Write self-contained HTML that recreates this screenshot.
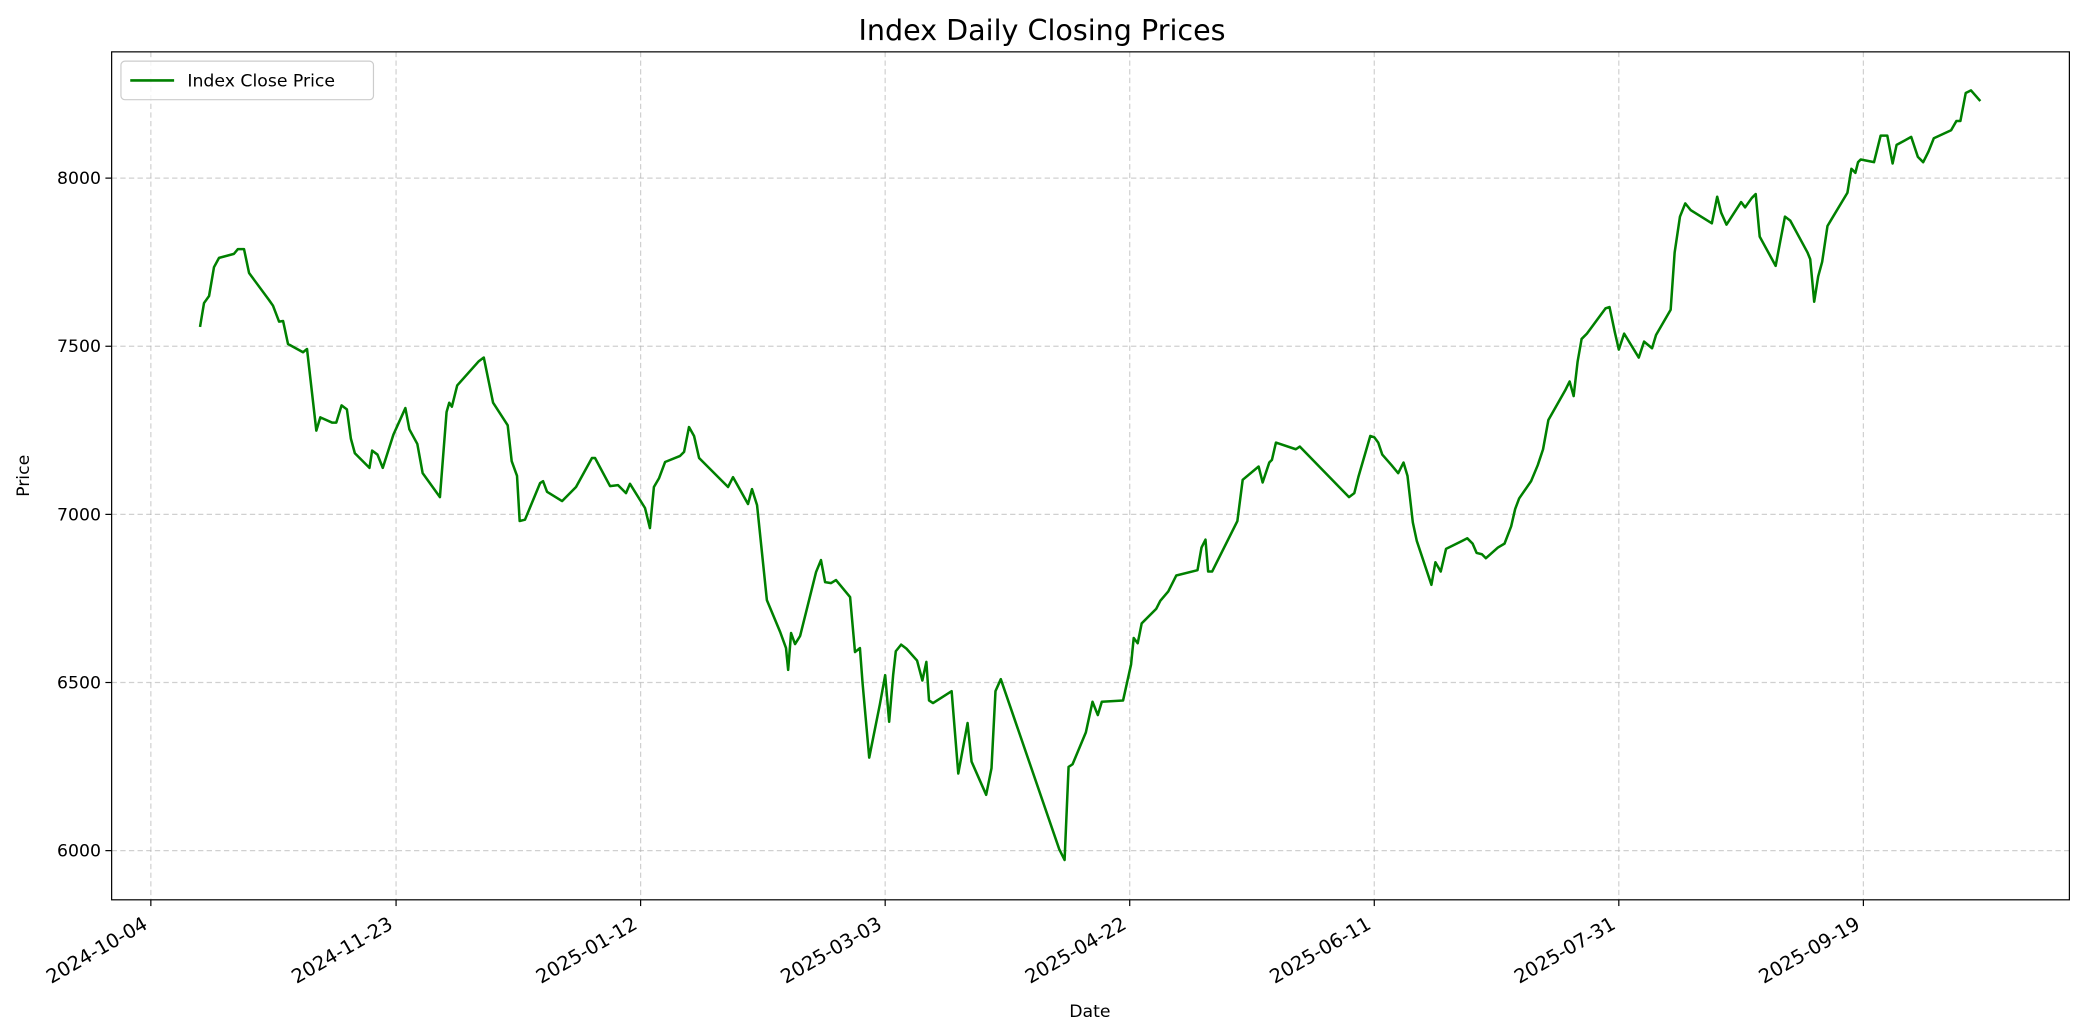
<!DOCTYPE html>
<html><head><meta charset="utf-8"><style>html,body{margin:0;padding:0;background:#fff}svg{display:block}</style></head>
<body>
<svg width="2084" height="1035" viewBox="0 0 1568 778.7" xmlns="http://www.w3.org/2000/svg" font-family="'DejaVu Sans','Liberation Sans',sans-serif">
<rect x="0" y="0" width="1568" height="778.7" fill="#fff"/>
<g stroke="#b0b0b0" stroke-opacity="0.6" stroke-width="0.9" stroke-dasharray="4,2.5" fill="none">
<line x1="113.5" y1="39" x2="113.5" y2="677"/><line x1="298" y1="39" x2="298" y2="677"/><line x1="482" y1="39" x2="482" y2="677"/><line x1="666" y1="39" x2="666" y2="677"/><line x1="850" y1="39" x2="850" y2="677"/><line x1="1034" y1="39" x2="1034" y2="677"/><line x1="1218" y1="39" x2="1218" y2="677"/><line x1="1402" y1="39" x2="1402" y2="677"/>
<line x1="84" y1="134" x2="1557" y2="134"/><line x1="84" y1="260.5" x2="1557" y2="260.5"/><line x1="84" y1="387" x2="1557" y2="387"/><line x1="84" y1="513.5" x2="1557" y2="513.5"/><line x1="84" y1="640" x2="1557" y2="640"/>
</g>
<polyline fill="none" stroke="#008000" stroke-width="1.9" stroke-linejoin="round" points="150.5,246 153.5,228 157.3,222.7 161,201 164.8,194 176,191 179,187.4 183.6,187.4 187.4,205.4 202.4,225.7 205.4,230 210,242 213,241.5 216.7,258.8 228,265 231,262.6 238,324 241,314 250,318 253,318 257,305 261,308 264,330 267,341 278,352 280,339 284,342 288,352 296,327 305,307 308,323 314,334 318,356 331,374 336,310 338,303 340,306 344,290 360,272 364,269 371,303 382,320 385,347 389,358 391,392 395,391 406.4,363.4 408.6,362 411.6,370 422.9,377 433.4,366.4 445.4,344.6 447.7,344.6 459,365.7 465,365 471,371 474,364 485.3,382.2 489,397.3 492,366.4 495.9,359.7 500.4,347.6 511.7,343 514.7,340 518.4,321.3 522.2,328 526,344.6 547.8,366.4 551.5,359 562.8,379.2 565.8,368 569.6,380 577,451.5 587,475.5 591.4,487.6 593,504 595.2,476.3 598.2,484.6 602,478.5 606.5,460.5 614,430.4 617.7,421.4 620.8,438 625.3,438.7 629,436.4 639.6,449.2 643.3,490.6 647,487.6 649,514 654,570 657,555 662,530 666,508 669,543 672,508 674,490 678,485 682,488 690,497 694,512 697,498 699,527 702,529 716,520 721,582 728,544 731,573 742,598 746,578 749,520 753,511 797,639 801,647 804,577 807,575 817,551 822,528 826,538 829,528 845,527 851,500 853,480 856,484 859,469 870,458 873,452 879,445 885,433 901,429 904,412 907,406 909,430 912,430 931,392 935,361 947,351 950,363 955,348 957,346 960,333 975,338 978,336 1015,374 1019,371 1022,359 1031,328 1034,329 1037,333 1040,342 1047,350 1052,356 1056,348 1059,358 1063,393 1066,407 1077,440 1080,423 1084,430 1088,413 1100,407 1104,405 1108,409 1111,416 1115,417 1118,420 1127,412 1132,409 1137,396 1140,383 1143,375 1152,362 1157,350 1161,338 1165,316 1178,293 1181,287 1184,298 1187,272 1190,255 1194,251 1208,232 1211,231 1215,250 1218,263 1222,251 1233,269 1237,257 1243,262 1246,252 1257,233 1260,190 1264,163 1268,153 1272,158 1288,168 1292,148 1295,160 1299,169 1310,152 1313,156 1318,149 1321,146 1324,178 1336,200 1339,184 1343,163 1347,166 1360,190 1362,195 1365,227 1368,208 1371,197 1375,170 1378,165 1390,145 1393,127 1396,130 1398,122 1400,120 1410,122 1415,102 1420,102 1424,123 1427,109 1438,103 1443,118 1447,122 1451,114 1455,104 1468,98 1472,91 1475,91 1479,70 1483,68 1490,76"/>
<rect x="84" y="39" width="1473" height="638" fill="none" stroke="#000" stroke-width="0.9"/>
<g stroke="#000" stroke-width="0.9">
<line x1="113.5" y1="677" x2="113.5" y2="681.7"/><line x1="298" y1="677" x2="298" y2="681.7"/><line x1="482" y1="677" x2="482" y2="681.7"/><line x1="666" y1="677" x2="666" y2="681.7"/><line x1="850" y1="677" x2="850" y2="681.7"/><line x1="1034" y1="677" x2="1034" y2="681.7"/><line x1="1218" y1="677" x2="1218" y2="681.7"/><line x1="1402" y1="677" x2="1402" y2="681.7"/>
<line x1="79.3" y1="134" x2="84" y2="134"/><line x1="79.3" y1="260.5" x2="84" y2="260.5"/><line x1="79.3" y1="387" x2="84" y2="387"/><line x1="79.3" y1="513.5" x2="84" y2="513.5"/><line x1="79.3" y1="640" x2="84" y2="640"/>
</g>
<g font-size="13" fill="#000" text-anchor="end">
<text x="76" y="138.5">8000</text><text x="76" y="265">7500</text><text x="76" y="391.5">7000</text><text x="76" y="518">6500</text><text x="76" y="644.5">6000</text>
</g>
<g font-size="14.6" fill="#000" text-anchor="end">
<text transform="translate(112,698) rotate(-30)">2024-10-04</text>
<text transform="translate(296.5,698) rotate(-30)">2024-11-23</text>
<text transform="translate(480.5,698) rotate(-30)">2025-01-12</text>
<text transform="translate(664.5,698) rotate(-30)">2025-03-03</text>
<text transform="translate(848.5,698) rotate(-30)">2025-04-22</text>
<text transform="translate(1032.5,698) rotate(-30)">2025-06-11</text>
<text transform="translate(1216.5,698) rotate(-30)">2025-07-31</text>
<text transform="translate(1400.5,698) rotate(-30)">2025-09-19</text>
</g>
<text x="820" y="765" font-size="13" text-anchor="middle">Date</text>
<text transform="translate(22,358) rotate(-90)" font-size="13" text-anchor="middle">Price</text>
<text x="784" y="30" font-size="21.5" text-anchor="middle">Index Daily Closing Prices</text>
<rect x="91" y="46" width="190" height="29" rx="3" fill="#fff" fill-opacity="0.8" stroke="#ccc" stroke-width="0.9"/>
<line x1="98" y1="60.5" x2="131" y2="60.5" stroke="#008000" stroke-width="1.9"/>
<text x="141" y="65" font-size="13">Index Close Price</text>
</svg>
</body></html>
